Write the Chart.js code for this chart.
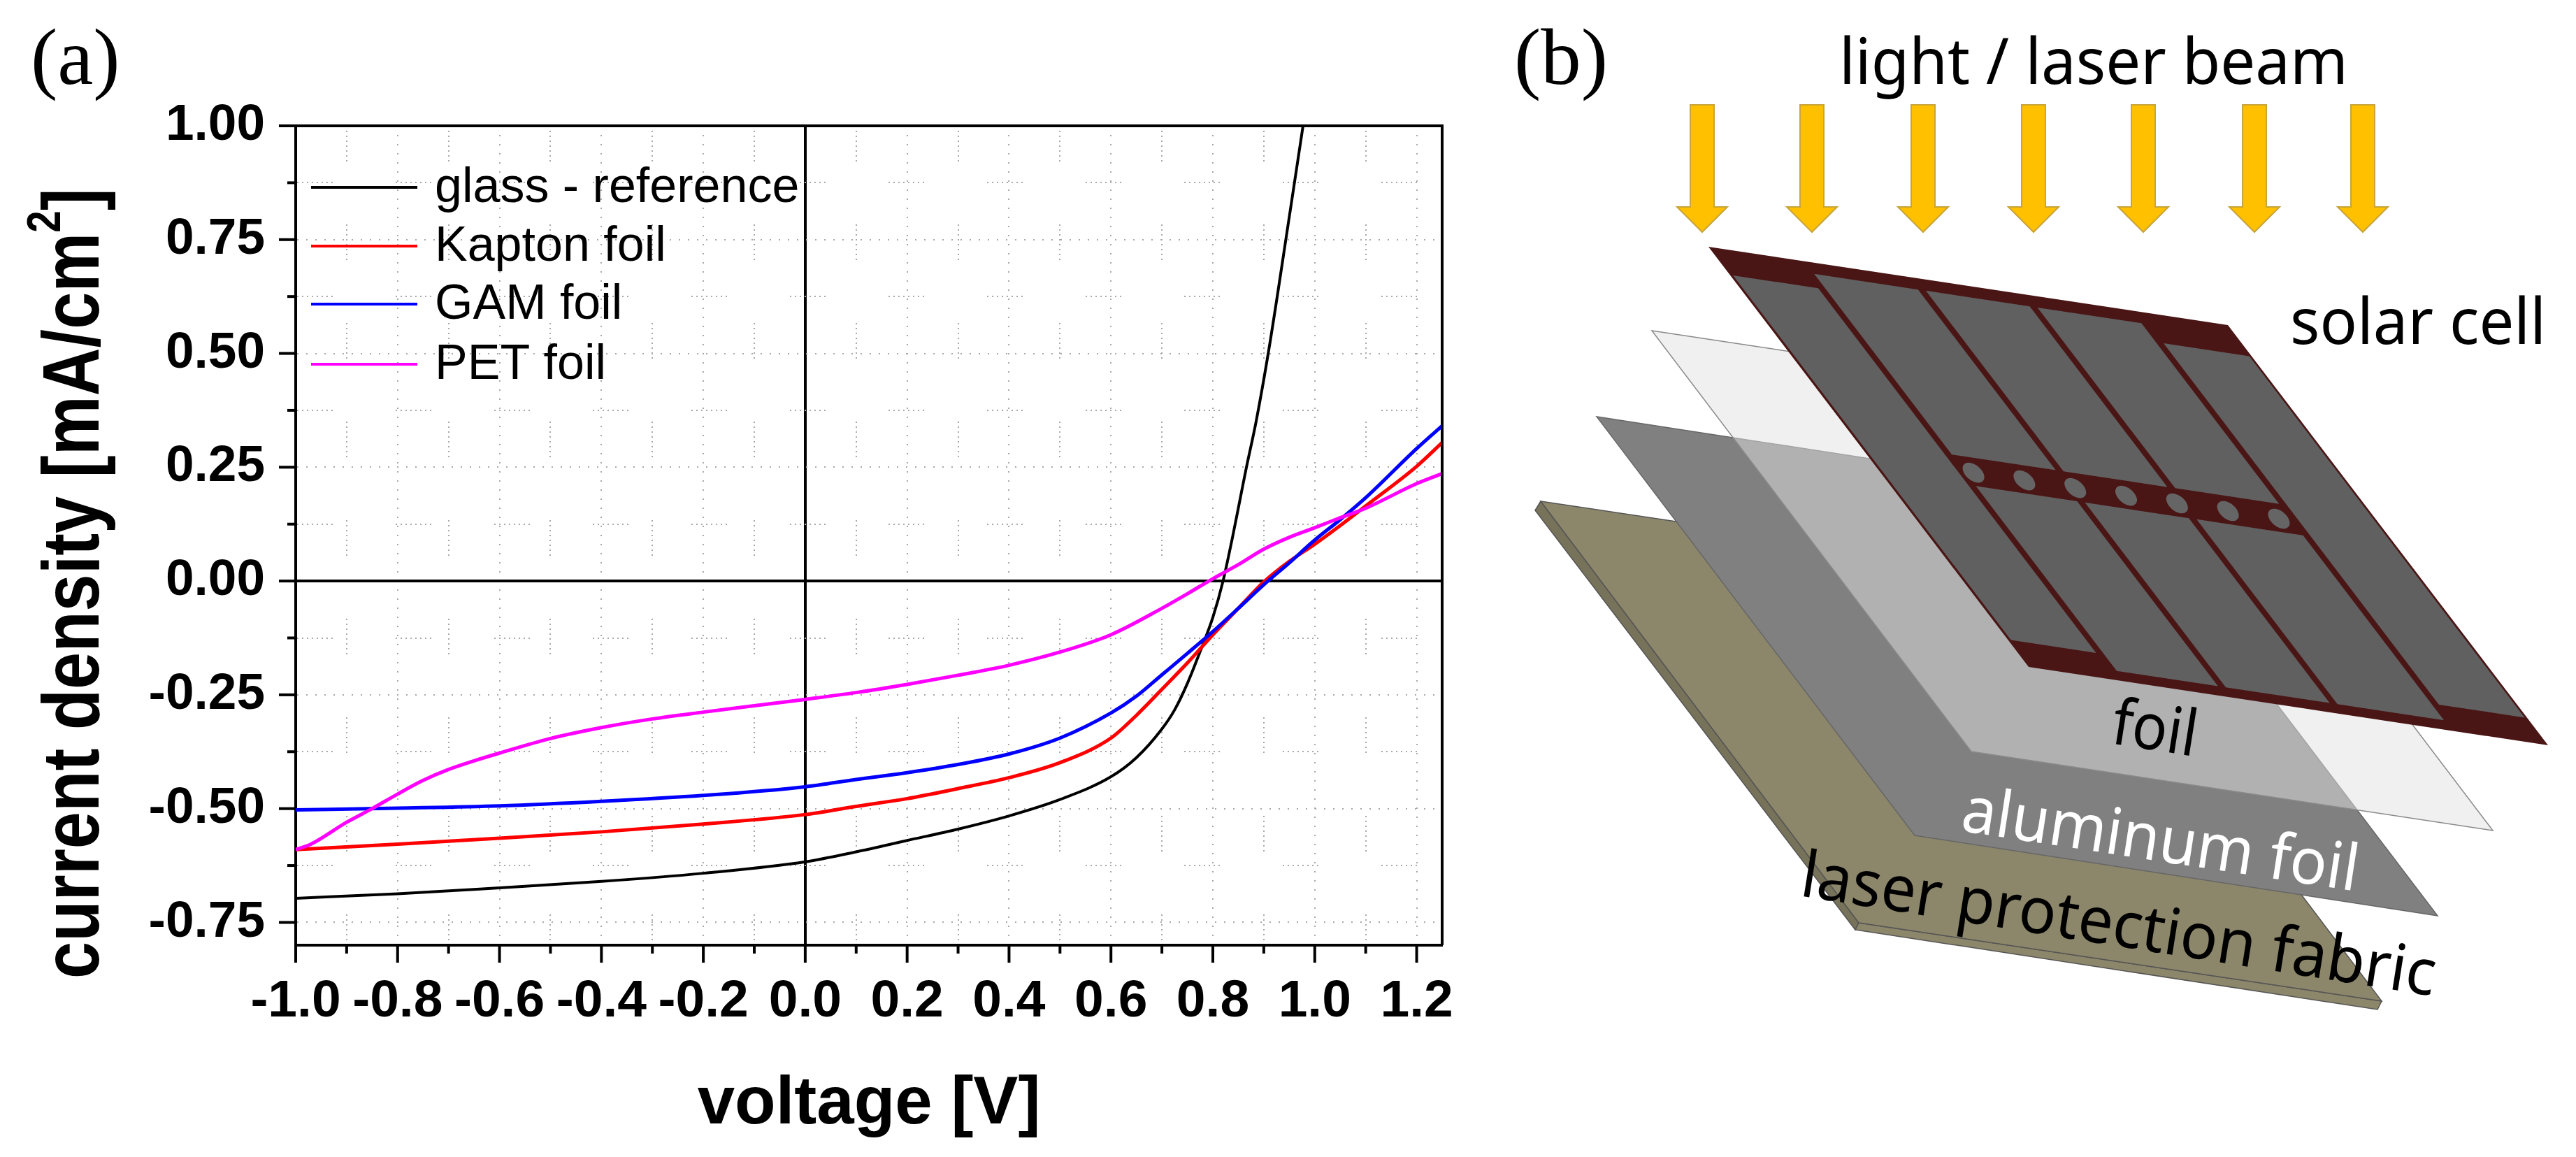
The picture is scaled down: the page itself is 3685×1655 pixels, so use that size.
<!DOCTYPE html>
<html>
<head>
<meta charset="utf-8">
<title>J-V curves and laser setup</title>
<script src="https://cdn.jsdelivr.net/npm/chart.js@4"></script>
<style>
  html, body { margin: 0; padding: 0; background: #fff; }
  #page { position: relative; width: 3685px; height: 1655px; overflow: hidden; }
  #chart1 { position: absolute; left: 0; top: 0; }
  #sketch { position: absolute; left: 0; top: 0; }
</style>
</head>
<body>
<div id="page">
<canvas id="chart1" width="2100" height="1655"></canvas>
<svg id="sketch" width="3685" height="1655" viewBox="0 0 3685 1655"></svg>
</div>
<script>
// values
const seriesNames = ['glass - reference', 'Kapton foil', 'GAM foil', 'PET foil'];
const seriesColors = ['#000000', '#ff0000', '#0000ff', '#ff00ff'];

const glassV = [-1, -0.8, -0.6, -0.4, -0.2, 0, 0.1, 0.2, 0.3, 0.4, 0.5, 0.6, 0.65, 0.7, 0.725, 0.75, 0.775, 0.8, 0.82, 0.838, 0.85, 0.865, 0.885, 0.91, 0.95, 0.977];
const glassJ = [-0.697, -0.687, -0.674, -0.66, -0.642, -0.617, -0.595, -0.57, -0.545, -0.516, -0.48, -0.43, -0.388, -0.325, -0.283, -0.225, -0.155, -0.08, 0, 0.093, 0.16, 0.245, 0.351, 0.509, 0.8, 1.0];

const foilV = [-1, -0.8, -0.6, -0.4, -0.2, 0, 0.1, 0.2, 0.3, 0.4, 0.5, 0.6, 0.65, 0.7, 0.75, 0.8, 0.85, 0.9, 0.95, 1, 1.05, 1.1, 1.2, 1.25];
const kaptonJ = [-0.59, -0.578, -0.565, -0.551, -0.534, -0.513, -0.495, -0.478, -0.456, -0.432, -0.399, -0.345, -0.295, -0.238, -0.18, -0.118, -0.06, -0.002, 0.043, 0.081, 0.122, 0.165, 0.252, 0.304];
const gamJ = [-0.503, -0.499, -0.494, -0.484, -0.471, -0.452, -0.436, -0.421, -0.403, -0.38, -0.345, -0.29, -0.253, -0.206, -0.159, -0.111, -0.06, -0.008, 0.04, 0.09, 0.135, 0.183, 0.291, 0.341];

const petV = [-1, -0.97, -0.9, -0.85, -0.8, -0.75, -0.7, -0.65, -0.6, -0.5, -0.4, -0.3, -0.2, -0.1, 0, 0.1, 0.2, 0.3, 0.4, 0.5, 0.6, 0.7, 0.75, 0.8, 0.85, 0.9, 0.95, 1, 1.05, 1.1, 1.2, 1.25];
const petJ = [-0.59, -0.578, -0.53, -0.5, -0.468, -0.438, -0.414, -0.395, -0.378, -0.346, -0.322, -0.303, -0.288, -0.274, -0.26, -0.245, -0.227, -0.207, -0.185, -0.156, -0.118, -0.06, -0.028, 0.005, 0.036, 0.07, 0.096, 0.117, 0.139, 0.16, 0.214, 0.236];

const xMajor = [-1, -0.8, -0.6, -0.4, -0.2, 0, 0.2, 0.4, 0.6, 0.8, 1, 1.2];
const xMinor = [-0.9, -0.7, -0.5, -0.3, -0.1, 0.1, 0.3, 0.5, 0.7, 0.9, 1.1];
const yMajor = [-0.75, -0.5, -0.25, 0, 0.25, 0.5, 0.75, 1];
const yMinor = [-0.625, -0.375, -0.125, 0.125, 0.375, 0.625, 0.875];

function pairs(xs, ys) {
  return xs.map((x, i) => ({ x: x, y: ys[i] }));
}

const minorDash = [2, 5, 2, 5, 2, 5, 2, 5, 2, 5, 2, 5, 2, 5, 2, 90];

function gridColor(ctx) {
  if (ctx.tick.value === 0) return '#000';
  return '#a8a8a8';
}
function gridDash(ctx, major) {
  if (ctx.tick.value === 0) return [];
  return major.includes(ctx.tick.value) ? [2, 11] : minorDash;
}

// ticks point outwards, long on labelled values and short on the others
const outerTicks = {
  id: 'outerTicks',
  afterDraw(chart) {
    const c = chart.ctx, a = chart.chartArea;
    const sx = chart.scales.x, sy = chart.scales.y;
    c.save();
    c.strokeStyle = '#000';
    c.lineWidth = 4;
    sx.ticks.forEach(t => {
      const px = sx.getPixelForValue(t.value);
      const len = xMajor.includes(t.value) ? 25 : 12;
      c.beginPath(); c.moveTo(px, a.bottom); c.lineTo(px, a.bottom + len); c.stroke();
    });
    sy.ticks.forEach(t => {
      const py = sy.getPixelForValue(t.value);
      const len = yMajor.includes(t.value) ? 24 : 12;
      c.beginPath(); c.moveTo(a.left - len, py); c.lineTo(a.left, py); c.stroke();
    });
    // top and right edge of the frame
    c.beginPath();
    c.moveTo(a.left, a.top); c.lineTo(a.right, a.top); c.lineTo(a.right, a.bottom);
    c.stroke();
    c.restore();
  }
};

// legend sits inside the plot, drawn from the dataset labels
const insideLegend = {
  id: 'insideLegend',
  afterDraw(chart) {
    const c = chart.ctx;
    const rows = [268, 352, 435, 521];
    c.save();
    c.font = '70px "Liberation Sans"';
    c.textBaseline = 'middle';
    c.textAlign = 'left';
    chart.data.datasets.forEach((d, i) => {
      c.strokeStyle = d.borderColor;
      c.lineWidth = 4;
      c.beginPath(); c.moveTo(445, rows[i]); c.lineTo(597, rows[i]); c.stroke();
      c.fillStyle = '#000';
      c.fillText(d.label, 622, rows[i] + 2);
    });
    c.restore();
  }
};

// y title does not sit on the middle of the axis and has a real superscript
const yTitle = {
  id: 'yTitle',
  afterDraw(chart) {
    const c = chart.ctx;
    c.save();
    c.translate(141, 1400);
    c.rotate(-Math.PI / 2);
    c.scale(0.975, 1.17);
    c.fillStyle = '#000';
    c.textBaseline = 'alphabetic';
    c.textAlign = 'left';
    c.font = 'bold 98px "Liberation Sans"';
    const a = 'current density [mA/cm';
    c.fillText(a, 0, 0);
    let w = c.measureText(a).width;
    c.font = 'bold 58px "Liberation Sans"';
    c.fillText('2', w, -47);
    w += c.measureText('2').width;
    c.font = 'bold 98px "Liberation Sans"';
    c.fillText(']', w, 0);
    c.restore();
  }
};

var ctx1 = document.getElementById('chart1').getContext('2d');
var chart1 = new Chart(ctx1, {
  type: 'line',
  data: {
    datasets: [
      { label: seriesNames[0], data: pairs(glassV, glassJ), borderColor: seriesColors[0], borderWidth: 4, order: 4 },
      { label: seriesNames[1], data: pairs(foilV, kaptonJ), borderColor: seriesColors[1], order: 3 },
      { label: seriesNames[2], data: pairs(foilV, gamJ), borderColor: seriesColors[2], order: 2 },
      { label: seriesNames[3], data: pairs(petV, petJ), borderColor: seriesColors[3], order: 1 }
    ]
  },
  options: {
    responsive: false,
    animation: false,
    devicePixelRatio: 1,
    layout: { padding: { top: 180, right: 37, left: 0, bottom: 0 } },
    elements: {
      point: { radius: 0 },
      line: { borderWidth: 5, cubicInterpolationMode: 'monotone' }
    },
    plugins: { legend: { display: false }, tooltip: { enabled: false }, title: { display: false } },
    scales: {
      x: {
        type: 'linear',
        min: -1,
        max: 1.25,
        afterBuildTicks: s => { s.ticks = xMajor.concat(xMinor).sort((a, b) => a - b).map(v => ({ value: v })); },
        afterFit: s => { s.height = 303; s.paddingLeft = 0; s.paddingRight = 0; },
        grid: {
          drawTicks: false,
          color: gridColor,
          lineWidth: c => c.tick.value === 0 ? 4 : 2
        },
        border: { color: '#000', width: 4, dash: c => gridDash(c, xMajor) },
        ticks: {
          autoSkip: false,
          maxRotation: 0,
          padding: 36,
          color: '#000',
          font: { family: '"Liberation Sans"', size: 75, weight: 'bold' },
          callback: v => xMajor.includes(v) ? v.toFixed(1) : ''
        },
        title: {
          display: true,
          text: 'voltage [V]',
          color: '#000',
          font: { family: '"Liberation Sans"', size: 96, weight: 'bold' },
          padding: { top: 0, bottom: 17 }
        }
      },
      y: {
        type: 'linear',
        min: -0.8,
        max: 1,
        afterBuildTicks: s => { s.ticks = yMajor.concat(yMinor).sort((a, b) => a - b).map(v => ({ value: v })); },
        afterFit: s => { s.width = 423; s.paddingTop = 0; s.paddingBottom = 0; },
        grid: {
          drawTicks: false,
          color: gridColor,
          lineWidth: c => c.tick.value === 0 ? 4 : 2
        },
        border: { color: '#000', width: 4, dash: c => gridDash(c, yMajor) },
        ticks: {
          autoSkip: false,
          padding: 44,
          color: '#000',
          font: { family: '"Liberation Sans"', size: 73, weight: 'bold' },
          callback: v => yMajor.includes(v) ? v.toFixed(2) : ''
        }
      }
    }
  },
  plugins: [outerTicks, insideLegend, yTitle]
});

// panel labels and the layer sketch of panel (b)
const NS = 'http://www.w3.org/2000/svg';
const svg = document.getElementById('sketch');

function add(tag, attrs, text) {
  const el = document.createElementNS(NS, tag);
  Object.keys(attrs).forEach(k => el.setAttribute(k, attrs[k]));
  if (text) el.textContent = text;
  svg.appendChild(el);
  return el;
}
function poly(points, fill, stroke, sw) {
  add('polygon', {
    points: points.map(p => p.join(',')).join(' '),
    fill: fill, stroke: stroke || 'none', 'stroke-width': sw || 0
  });
}
function label(text, x, y, size, width, angle, fill) {
  add('text', {
    x: x, y: y, 'font-family': 'Noto Sans', 'font-size': size, fill: fill || '#000',
    textLength: width, lengthAdjust: 'spacingAndGlyphs',
    transform: 'rotate(' + angle + ' ' + x + ' ' + y + ')'
  }, text);
}

add('text', { x: 44, y: 120, 'font-family': 'Liberation Serif', 'font-size': 115, fill: '#000' }, '(a)');
add('text', { x: 2166, y: 120, 'font-family': 'Liberation Serif', 'font-size': 115, fill: '#000' }, '(b)');

// arrows
[2435, 2592, 2751, 2909, 3066, 3225, 3380].forEach(x => {
  poly([[x - 17, 150], [x + 17, 150], [x + 17, 296], [x + 36, 296], [x, 332], [x - 36, 296], [x - 17, 296]], '#ffc000', '#c8a43a', 2);
});
label('light / laser beam', 2631, 120, 92, 728, 0);

// fabric
poly([[2204, 717], [2196, 730], [2654, 1330], [2659, 1320]], '#77725a', '#555', 1.5);
poly([[2659, 1320], [2654, 1330], [3401, 1444], [3407, 1432]], '#8c866a', '#555', 1.5);
poly([[2204, 717], [2952, 829], [3407, 1432], [2659, 1320]], '#8c866a', '#555', 1.5);
// aluminum
poly([[2284, 596], [3032, 711], [3487, 1310], [2739, 1195]], '#808080', '#666', 1.5);
// foil
poly([[2363, 473], [3109, 586], [3566, 1188], [2820, 1075]], 'rgba(225,225,225,0.5)', '#8a8a8a', 1.5);

// solar cell, worked out in the plane of its parallelogram
const cellO = [2444, 353], cellU = [743, 112], cellV = [458, 601];
function cp(u, v) {
  return [cellO[0] + cellU[0] * u + cellV[0] * v, cellO[1] + cellU[1] * u + cellV[1] * v];
}
function cellRect(u0, u1, v0, v1) {
  poly([cp(u0, v0), cp(u1, v0), cp(u1, v1), cp(u0, v1)], '#606060');
}
poly([cp(0, 0), cp(1, 0), cp(1, 1), cp(0, 1)], '#4a1515');
cellRect(0.006, 0.17, 0.067, 0.935);
cellRect(0.83, 0.995, 0.075, 0.935);
cellRect(0.185, 0.385, 0.03, 0.46);
cellRect(0.40, 0.60, 0.03, 0.46);
cellRect(0.615, 0.815, 0.03, 0.46);
cellRect(0.185, 0.38, 0.535, 0.975);
cellRect(0.395, 0.595, 0.535, 0.975);
cellRect(0.61, 0.815, 0.535, 0.975);
[0.202, 0.3, 0.398, 0.496, 0.594, 0.692, 0.79].forEach(u => {
  const c = cp(u, 0.5);
  add('ellipse', {
    cx: c[0], cy: c[1], rx: 18, ry: 11, fill: '#656565',
    transform: 'rotate(40 ' + c[0] + ' ' + c[1] + ')'
  });
});

label('solar cell', 3276, 492, 92, 366, 0);
label('foil', 3018, 1063, 92, 122, 9);
label('aluminum foil', 2803, 1188, 92, 573, 8.7, '#fff');
label('laser protection fabric', 2573, 1281, 92, 918, 9);
</script>
</body>
</html>
